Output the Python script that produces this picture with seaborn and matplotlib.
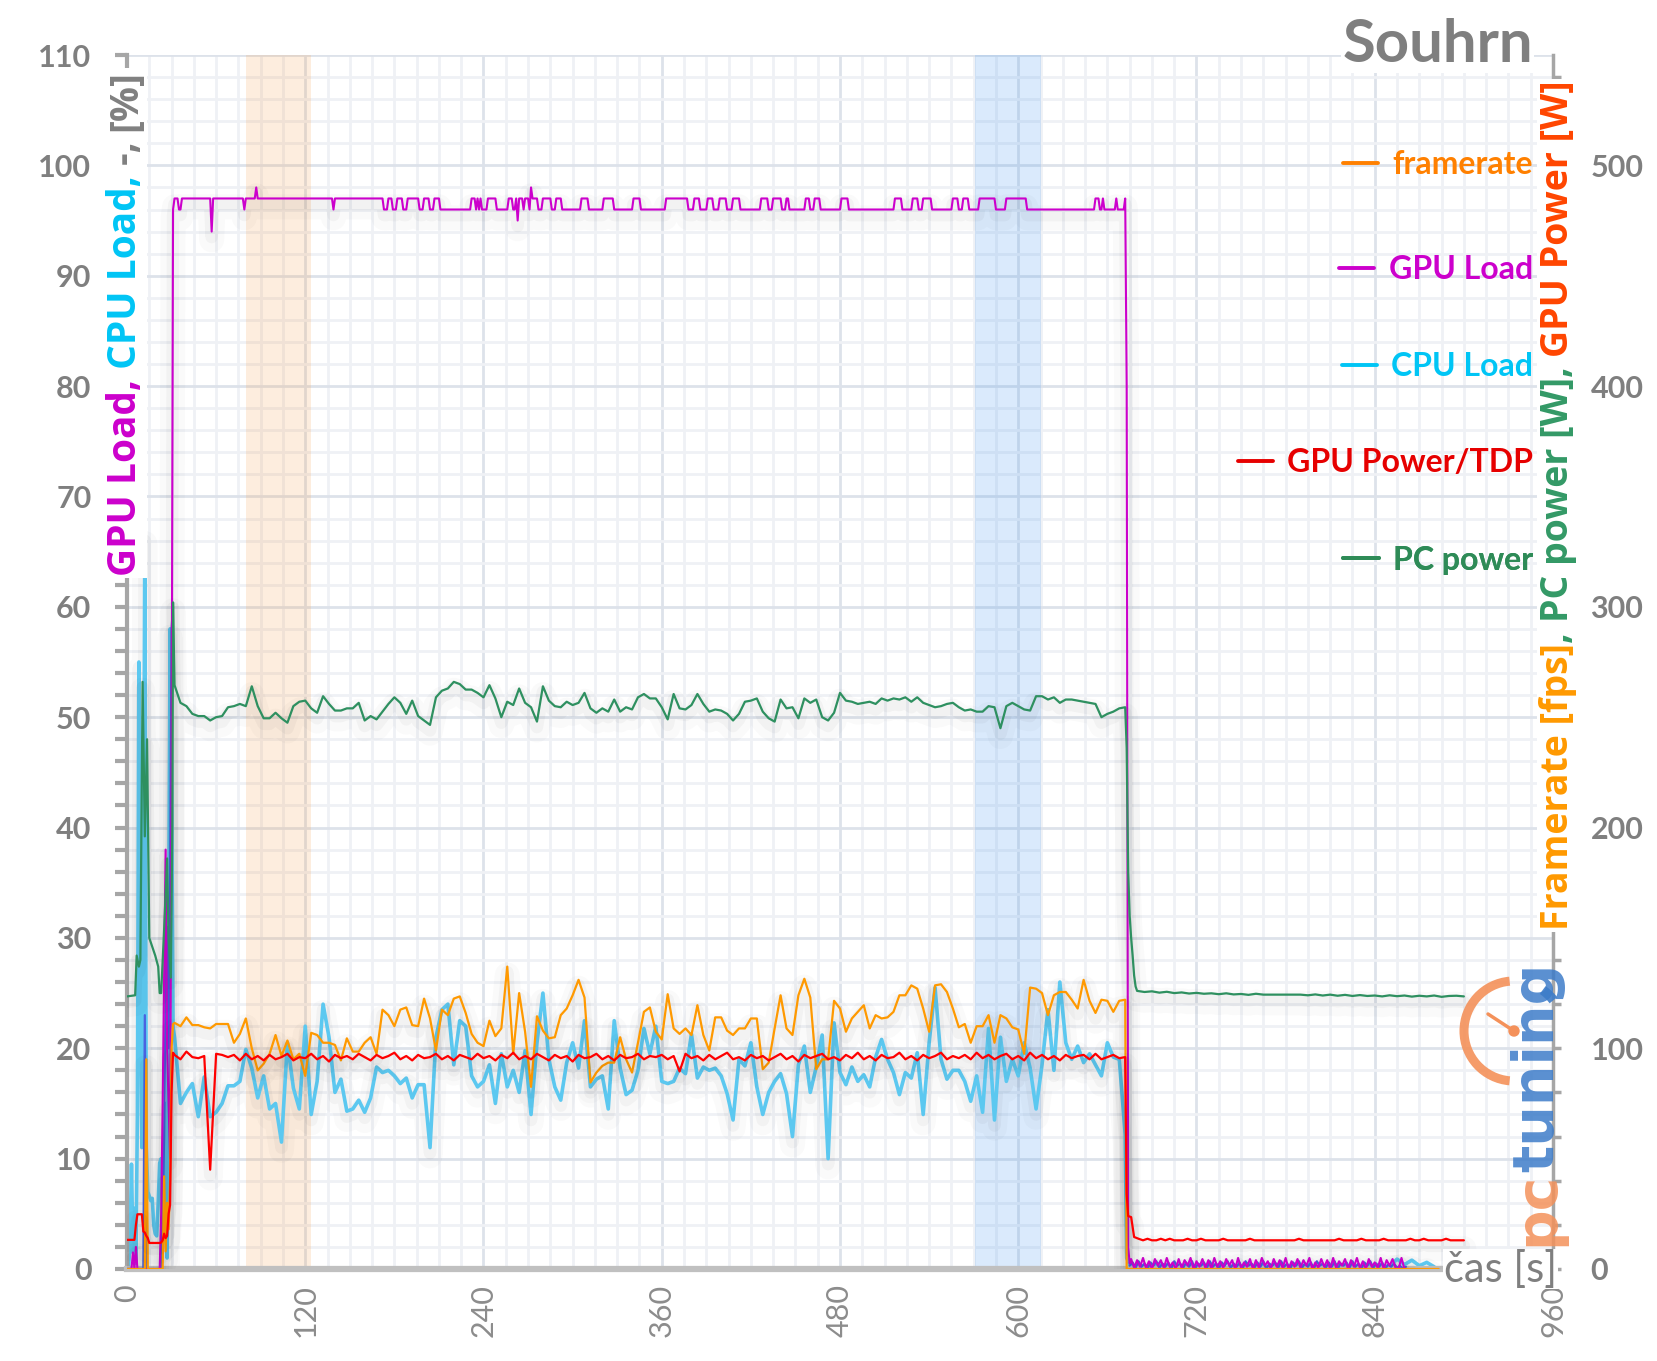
import numpy as np
import pandas as pd
import matplotlib
matplotlib.use("Agg")
import matplotlib.pyplot as plt
import seaborn as sns
from matplotlib.ticker import MultipleLocator
from matplotlib.lines import Line2D
from matplotlib.patches import Arc, Circle
from matplotlib.transforms import IdentityTransform
import matplotlib.patheffects as pe

# ------------------------------------------------------------------ data
# sampling clock of the loaded phase (s)
t_active = np.arange(32, 672, 4)

# CPU Load [%]
cpu_start_t = [0, 1, 2, 3, 4, 5, 6, 7, 8, 9, 10, 11, 12, 13, 14, 15, 16, 17, 18, 19,
               20, 21, 22, 23, 24, 25, 26, 27, 28, 29, 30, 31]
cpu_start_v = [0.6, 0.2, 2.0, 9.5, 1.5, 5.5, 0.5, 14.0, 55.0, 25.0, 11.0, 30.0, 66.5, 11.0,
               7.0, 6.6, 6.2, 6.4, 4.0, 3.2, 3.0, 6.0, 9.6, 10.0, 5.0, 3.0, 15.0, 1.0, 30.0,
               58.0, 45.0, 22.0]
cpu_active = [
    21.0, 15.0, 16.0, 16.8, 13.8, 17.4, 13.8, 14.2, 15.0, 16.6,
    16.6, 17.0, 19.9, 18.2, 15.5, 17.5, 14.5, 15.0, 11.5, 20.5,
    16.4, 14.5, 22.0, 14.0, 17.0, 24.0, 21.0, 16.0, 17.2, 14.3,
    14.5, 15.3, 14.2, 15.5, 18.3, 17.8, 18.0, 17.5, 16.8, 17.3,
    15.5, 16.7, 16.7, 11.0, 21.0, 23.5, 24.0, 18.5, 22.5, 22.0,
    17.5, 16.5, 17.0, 18.5, 15.0, 19.5, 16.5, 18.0, 16.0, 19.8,
    14.0, 20.5, 25.0, 19.0, 16.5,
    15.3, 18.7, 20.5, 18.2, 22.5, 16.5, 17.2, 17.5, 14.5, 22.5,
    18.2, 15.8, 16.2, 18.0, 21.8, 19.5, 22.0, 17.0, 16.8, 17.0,
    18.2, 17.7, 21.3, 17.3, 18.3, 18.0, 18.2, 17.5, 15.9, 13.5,
    19.0, 18.4, 20.5, 16.5, 14.0, 16.0, 17.0, 17.7, 15.9, 12.0,
    18.5, 20.2, 16.0, 18.3, 21.2, 10.0, 22.3, 17.8, 16.7, 18.3,
    17.0, 17.6, 16.5, 19.2, 20.8, 19.0, 17.8, 15.8, 17.8, 17.3,
    19.6, 14.0, 20.5, 25.5, 19.0, 17.2, 18.0, 18.0, 17.0,
    15.2, 17.5, 14.2, 21.8, 13.5, 21.0, 17.0, 19.0, 17.5, 20.5,
    18.2, 14.5, 18.5, 23.5, 18.0, 26.0, 20.5, 19.0, 20.2, 18.7,
    19.5, 18.5, 17.5, 20.5, 19.2, 19.0]
cpu_drop_t = [672, 673]
cpu_drop_v = [12.2, 1.0]
cpu_idle_t0 = 675
cpu_idle_v = [0.4, 0.2, 0.3, 0.2, 0.5, 0.2, 0.3, 0.1, 0.4, 0.2, 0.3, 0.2, 0.4, 0.1,
              0.3, 0.2, 0.5, 0.2, 0.3, 0.1, 0.4, 0.2, 0.3, 0.2, 0.4, 0.1, 0.3, 0.2,
              0.4, 0.2, 0.3, 0.1, 0.4, 0.2, 0.3, 0.2, 0.9, 0.4, 0.8, 0.3, 0.6, 0.2]

# GPU Load [%]
gpu_load_t = [0, 3, 4, 5, 6, 7, 8, 22, 23, 24, 26, 27, 28, 29, 30, 31,
              32, 34, 35, 36, 37, 56, 57, 58, 78, 79, 80, 86, 87, 88, 138, 139, 140,
              172, 173, 175, 176, 178, 179, 181, 182, 185, 186, 188, 189, 196, 197, 199, 200,
              203, 204, 206, 207, 210, 211,
              231, 232, 234, 235, 236, 237, 238, 239, 242, 243, 248, 249, 256, 257, 259, 260,
              261, 262, 263, 264, 266, 267, 268, 270, 271, 272, 273, 276, 277, 279, 280, 285,
              286, 288, 289, 292, 293,
              305, 306, 310, 311, 320, 321, 327, 328, 340, 341, 345, 346, 362, 363, 377, 378,
              381, 382, 385, 386, 390, 391, 394, 395, 398, 399, 403, 404, 407, 408, 412, 413,
              426, 427, 431, 432, 434, 435, 440, 441, 443, 444, 445, 446, 456, 457, 459, 460,
              462, 463, 466, 467, 480, 481, 485, 486,
              516, 517, 521, 522, 528, 529, 532, 533, 535, 536, 541, 542, 555, 556, 559, 560,
              562, 563, 566, 567, 573, 574, 584, 585, 591, 592, 605, 606,
              651, 652, 654, 655, 656, 657, 658, 665, 666, 667, 671, 672, 673, 674, 675]
gpu_load_v = [0, 0, 1.5, 0, 2, 0, 0, 0, 5, 15, 38, 20, 15, 10, 45, 96,
              97, 97, 96, 96, 97, 97, 94, 97, 97, 96, 97, 97, 98, 97, 97, 96, 97,
              97, 96, 96, 97, 97, 96, 96, 97, 97, 96, 96, 97, 97, 96, 96, 97,
              97, 96, 96, 97, 97, 96,
              96, 97, 97, 96, 97, 96, 97, 96, 96, 97, 97, 96, 96, 97, 97, 96,
              96, 97, 95, 97, 97, 96, 97, 97, 96, 98, 97, 97, 96, 96, 97, 97,
              96, 96, 97, 97, 96,
              96, 97, 97, 96, 96, 97, 97, 96, 96, 97, 97, 96, 96, 97, 97, 96,
              96, 97, 97, 96, 96, 97, 97, 96, 96, 97, 97, 96, 96, 97, 97, 96,
              96, 97, 97, 96, 96, 97, 97, 96, 96, 97, 97, 96, 96, 97, 97, 96,
              96, 97, 97, 96, 96, 97, 97, 96,
              96, 97, 97, 96, 96, 97, 97, 96, 96, 97, 97, 96, 96, 97, 97, 96,
              96, 97, 97, 96, 96, 97, 97, 96, 96, 97, 97, 96,
              96, 97, 97, 96, 96, 97, 96, 96, 97, 96, 96, 97, 80, 2, 0.5]
gpu_load_idle_t0 = 676
gpu_load_idle_v = [0.9, 0.1, 0.8, 0.2, 1.0, 0.1, 0.7, 0.0, 0.9, 0.3,
                   0.8, 0.1, 1.0, 0.2, 0.6, 0.0, 0.9, 0.1, 0.8, 0.3,
                   1.0, 0.0, 0.7, 0.2, 0.9, 0.1, 0.8, 0.0, 1.0, 0.2,
                   0.7, 0.1, 0.9, 0.3, 0.8, 0.0, 1.0, 0.1, 0.6, 0.2,
                   0.9, 0.0, 0.8, 0.1, 1.0, 0.3, 0.7, 0.0, 0.9, 0.2,
                   0.8, 0.1, 1.0, 0.0, 0.7, 0.2, 0.9, 0.1, 0.8, 0.3,
                   1.0, 0.0, 0.6, 0.1, 0.9, 0.2, 0.8, 0.0, 1.0, 0.1,
                   0.7, 0.3, 0.9, 0.0, 0.8, 0.2, 1.0, 0.1, 0.7, 0.0,
                   0.9, 0.2, 0.6, 0.1, 1.0, 0.0, 0.8, 0.3, 0.9, 0.1,
                   0.0, 1.0, 0.0, 0.0]

# unlabeled blue trace [%]
aux_start_t = [0, 11, 12, 13, 23, 24, 25, 26, 27, 28, 29, 30, 31]
aux_start_v = [0, 0, 23, 0, 0, 5, 12, 25, 31, 20, 35, 58, 60]
aux_idle_t0 = 675
aux_idle_v = [0.3, 0.6, 0.1, 0.7, 0.2, 0.5, 0.0, 0.6, 0.3, 0.7,
              0.1, 0.5, 0.2, 0.6, 0.0, 0.7, 0.3, 0.5, 0.1, 0.6,
              0.2, 0.7, 0.0, 0.5, 0.3, 0.6, 0.1, 0.7, 0.2, 0.5,
              0.0, 0.6, 0.3, 0.7, 0.1, 0.5, 0.2, 0.6, 0.0, 0.7,
              0.3, 0.5, 0.1, 0.6, 0.2, 0.7, 0.0, 0.5, 0.3, 0.6,
              0.1, 0.7, 0.2, 0.5, 0.0, 0.6, 0.3, 0.7, 0.1, 0.5,
              0.2, 0.6, 0.0, 0.7, 0.3, 0.5, 0.1, 0.6, 0.2, 0.7,
              0.0, 0.5, 0.3, 0.6, 0.1, 0.7, 0.2, 0.5, 0.0, 0.6,
              0.3, 0.7, 0.1, 0.5, 0.2, 0.6, 0.0, 0.4, 0.2, 0.5,
              0.1, 0.3, 0.0, 0.2]

# framerate [fps]
fps_start_t = [0, 12, 13, 14, 24, 25, 26, 27, 28, 29, 30, 31]
fps_start_v = [0, 0, 95, 0, 0, 42, 8, 30, 18, 40, 100, 111]
fps_active = [
    111.5, 110, 114, 110.5, 110.5, 109.5, 109, 111, 111, 111,
    102.5, 106.5, 113.5, 100, 90, 93, 97.5, 106, 96.5, 103.5,
    95, 97.5, 87.5, 107, 106, 102.5, 102.5, 101.5, 94.5, 104.5,
    98.5, 98.5, 102.5, 105, 97.5, 117.5, 115, 110, 117.5, 118.5,
    110.5, 110, 122.5, 113.5, 99, 117.5, 115, 122.5, 123.5, 116,
    106.5, 102.5, 101, 112.5, 105.5, 109, 137, 97.5, 125, 107.5,
    82.5, 114.5, 108, 104.5, 105,
    115, 118, 124, 131, 123, 84.5, 89, 92, 93.5, 93.5,
    105, 95, 89, 102.5, 116.5, 118.5, 107.5, 104, 124.5, 109,
    106.5, 109, 106, 119.5, 106, 99, 114, 114, 108, 106,
    109, 109, 113.5, 113.5, 90.5, 93.5, 109, 124, 109, 106,
    124, 131.5, 123, 90.5, 95, 95, 121.5, 118, 107.5, 113.5,
    116.5, 119.5, 109, 115, 113.5, 114, 116.5, 124, 124, 128.5,
    127, 118, 107.5, 128.5, 129, 125.5, 118, 109.5, 111,
    102.5, 110, 110, 115, 102.5, 115, 113.5, 109.5, 108.5, 97.5,
    127.5, 127, 125, 115, 124, 125.5, 125.5, 122, 118, 131,
    121.5, 116, 122, 121.5, 116.5, 121.5]
fps_end_t = [672, 673, 883]
fps_end_v = [122, 0, 0]

# GPU power [W]
gpw_start_t = [0, 5, 6, 7, 8, 10, 11, 12, 13, 14, 15, 22, 23, 24, 25, 26, 27, 28, 29, 30, 31]
gpw_start_v = [13.2, 13.2, 20, 24.8, 24.8, 24.8, 17, 16.5, 15, 14, 11.8, 11.8, 12, 13, 16,
               14, 15, 25, 29, 80, 98]
gpw_active = [
    97, 95, 98.5, 96, 95.5, 96.5, 45, 97.5, 97, 96,
    97, 94.5, 97.5, 95, 96.5, 94.5, 97, 95, 96, 97.5,
    94.5, 96, 95.5, 97.5, 95, 96.5, 94, 97, 95.5, 96.5,
    95, 97.5, 96, 94.5, 97, 95.5, 96.5, 98, 95, 96.5,
    94.5, 97, 95.5, 96, 97.5, 95, 96.5, 94.5, 97, 96,
    95, 97.5, 95.5, 96.5, 94.5, 97, 95.5, 98, 95, 96.5,
    95, 97.5, 96, 94.5, 97,
    95.5, 96.5, 94, 97, 95.5, 96, 97.5, 95, 96.5, 94.5,
    97, 95.5, 96, 97.5, 95, 96.5, 96, 97, 95, 96.5,
    89.5, 97.5, 95.5, 96.5, 94.5, 97, 95, 96.5, 98, 95,
    96, 94.5, 97, 95.5, 96.5, 94.5, 96, 97.5, 95, 96.5,
    94, 97, 95.5, 96.5, 97.5, 95, 96, 94.5, 97, 95.5,
    98, 95, 96.5, 94.5, 97, 95.5, 96, 98, 95, 96.5,
    94.5, 97, 95.5, 96.5, 98, 95, 96.5, 95.5, 97,
    95, 98, 95.5, 97, 95, 96.5, 97.5, 95, 96.5, 94.5,
    98, 95.5, 97, 95, 96.5, 94.5, 97, 95.5, 96.5, 97,
    95, 97.5, 95, 96, 97, 95.5]
gpw_drop_t = [672, 673, 674, 676, 678]
gpw_drop_v = [96, 34, 24, 23.5, 14.5]
gpw_idle_t0 = 681
gpw_idle_v = [13.7, 13.0, 13.7, 13.0, 13.0, 13.7, 13.0, 13.7, 13.0, 13.0,
              13.0, 13.7, 13.0, 13.0, 13.7, 13.0, 13.0, 13.0, 13.0, 13.7,
              13.0, 13.0, 13.0, 13.0, 13.0, 13.7, 13.0, 13.0, 13.0, 13.0,
              13.0, 13.0, 13.0, 13.0, 13.0, 13.0, 13.7, 13.0, 13.0, 13.0,
              13.0, 13.0, 13.0, 13.0, 13.0, 13.7, 13.0, 13.0, 13.0, 13.0,
              13.7, 13.0, 13.0, 13.0, 13.0, 13.7, 13.0, 13.0, 13.0, 13.0,
              13.0, 13.7, 13.0, 13.0, 13.7, 13.0, 13.0, 13.0, 13.0, 13.7,
              13.0, 13.0, 13.0, 13.0]

# PC power [W]
pc_start_t = [0, 5.5, 6.5, 8, 9, 10.5, 12, 13.5, 15, 17, 19, 21, 22, 23, 24, 25, 26, 27,
              28, 29.5, 30.5, 31]
pc_start_v = [123.5, 124, 142, 137, 140, 266, 196, 240, 150, 146, 142, 137, 125, 125, 139,
              154, 170, 186, 150, 132, 200, 302]
pc_active = [
    264.5, 256.5, 255, 251.5, 250.5, 250.5, 248.5, 250, 250.5, 254.5,
    255, 256, 255, 264, 255, 249.5, 249.5, 252, 249.5, 247.5,
    255, 257, 257.5, 254, 252, 259.5, 256, 253, 253, 254,
    254, 256.5, 248.5, 250.5, 249, 252.5, 256, 259, 256.5, 251.5,
    257.5, 250.5, 248.5, 246.5, 259, 262, 263, 266, 265, 262.5,
    262.5, 261, 259, 264.5, 258.5, 250, 257, 255.5, 263, 256.5,
    254.5, 248, 264, 257.5, 255,
    254.5, 257, 255.5, 256.5, 261, 254, 252, 254, 252.5, 258,
    252.5, 254.5, 253.5, 259, 260.5, 258.5, 258.5, 254.5, 249, 260.5,
    254, 253.5, 255.5, 260.5, 256, 252.5, 253.5, 253, 251.5, 248.5,
    251.5, 257, 257.5, 258.5, 252.5, 249.5, 248, 258, 254, 254.5,
    249.5, 258.5, 256.5, 258, 250, 248.5, 252, 261, 257.5, 257,
    256, 256.5, 257, 256, 258.5, 257.5, 258.5, 258, 259, 257,
    259, 256.5, 255.5, 254.5, 255, 256, 256.5, 254.5, 253,
    253.5, 252.5, 252.5, 255, 254.5, 245, 255, 256.5, 255, 253.5,
    253, 259.5, 259.5, 258, 259, 256.5, 258, 258, 257.5, 257,
    256.5, 256, 250, 251.5, 252.5, 254]
pc_drop_t = [672, 673, 674, 675, 676, 677, 678, 679]
pc_drop_v = [254.5, 236, 180, 160, 150, 142, 133, 128]
pc_idle_t0 = 680
pc_idle_v = [126, 125.5, 125.8, 125.2, 125.6, 125, 125.3, 124.8, 125.1, 124.7,
             124.9, 124.5, 124.9, 124.4, 124.6, 124.2, 124.7, 124.3, 124.3, 124.3,
             124.3, 124.3, 124.3, 124.0, 124.4, 123.9, 124.3, 123.8, 124.2, 123.7,
             124.1, 123.7, 123.9, 123.5, 124.0, 123.6, 123.9, 123.4, 123.8, 123.5,
             123.9, 123.3, 123.7, 123.8, 123.5]

# highlighted intervals (s)
band_orange = (80, 124)
band_blue = (571, 615)

x_ticks_step = 120
legend_names = ["framerate", "GPU Load", "CPU Load", "GPU Power/TDP", "PC power"]

# ------------------------------------------------------------------ frames
def frame(parts):
    rows = []
    for seg, t, v in parts:
        rows.append(pd.DataFrame({"t": np.asarray(t, float), "v": np.asarray(v, float), "seg": seg}))
    return pd.concat(rows, ignore_index=True)

def idle_t(t0, vals, step):
    return t0 + step * np.arange(len(vals))

cpu_df = frame([(0, cpu_start_t, cpu_start_v), (0, t_active, cpu_active),
                (0, cpu_drop_t, cpu_drop_v), (0, idle_t(cpu_idle_t0, cpu_idle_v, 5), cpu_idle_v)])
gload_df = frame([(0, gpu_load_t, gpu_load_v),
                  (0, idle_t(gpu_load_idle_t0, gpu_load_idle_v, 2), gpu_load_idle_v)])
aux_df = frame([(0, aux_start_t, aux_start_v),
                (1, idle_t(aux_idle_t0, aux_idle_v, 2), aux_idle_v)])
fps_df = frame([(0, fps_start_t, fps_start_v), (0, t_active, fps_active), (0, fps_end_t, fps_end_v)])
gpw_df = frame([(0, gpw_start_t, gpw_start_v), (0, t_active, gpw_active),
                (0, gpw_drop_t, gpw_drop_v), (0, idle_t(gpw_idle_t0, gpw_idle_v, 3), gpw_idle_v)])
pc_df = frame([(0, pc_start_t, pc_start_v), (0, t_active, pc_active),
               (0, pc_drop_t, pc_drop_v), (0, idle_t(pc_idle_t0, pc_idle_v, 5), pc_idle_v)])

# ------------------------------------------------------------------ style
sns.set_style("white")
plt.rcParams["font.family"] = ["Lato", "DejaVu Sans"]

FW, FH = 1658, 1361
fig = plt.figure(figsize=(FW / 100, FH / 100), dpi=100)
ax = fig.add_axes([127 / FW, 1 - 1269 / FH, 1426 / FW, 1214 / FH])
ax2 = ax.twinx()

C_CPU, C_GLOAD, C_AUX = "#5cc8f0", "#cc00cc", "#4a62e0"
C_FPS, C_GPW, C_PC = "#ff9900", "#ff0000", "#2e9060"
GRAY = "#7f7f7f"

shadow = [pe.SimpleLineShadow(offset=(0, -6), shadow_color="black", alpha=0.02, linewidth=18),
          pe.SimpleLineShadow(offset=(0, -4), shadow_color="black", alpha=0.03, linewidth=9),
          pe.Normal()]

common = dict(x="t", y="v", units="seg", estimator=None, sort=False, legend=False)
sns.lineplot(data=cpu_df, ax=ax, color=C_CPU, lw=2.6, path_effects=shadow, zorder=2, **common)
sns.lineplot(data=aux_df, ax=ax, color=C_AUX, lw=1.6, zorder=3, **common)
sns.lineplot(data=gload_df, ax=ax, color=C_GLOAD, lw=1.5, path_effects=shadow, zorder=4, **common)
sns.lineplot(data=pc_df, ax=ax2, color=C_PC, lw=1.6, path_effects=shadow, zorder=2, **common)
sns.lineplot(data=fps_df, ax=ax2, color=C_FPS, lw=1.6, path_effects=shadow, zorder=3, **common)
sns.lineplot(data=gpw_df, ax=ax2, color=C_GPW, lw=1.6, path_effects=shadow, zorder=4, **common)

ax.axvspan(*band_orange, color="#f5a55a", alpha=0.2, lw=0, zorder=0.6)
ax.axvspan(*band_blue, color="#4a9af0", alpha=0.2, lw=0, zorder=0.6)

ax.set_xlim(0, 960)
ax.set_ylim(0, 110)
ax2.set_ylim(0, 550)
ax.set_xlabel("")
ax.set_ylabel("")
ax2.set_ylabel("")
ax.xaxis.set_major_locator(MultipleLocator(x_ticks_step))
ax.xaxis.set_minor_locator(MultipleLocator(15))
ax.yaxis.set_major_locator(MultipleLocator(10))
ax.yaxis.set_minor_locator(MultipleLocator(2))
ax2.yaxis.set_major_locator(MultipleLocator(100))
ax2.yaxis.set_minor_locator(MultipleLocator(20))

ax.set_axisbelow(True)
ax.grid(which="major", color="#dde2ea", lw=2)
ax.grid(which="minor", color="#eff1f5", lw=2)

for s in ["top", "right"]:
    ax.spines[s].set_visible(False)
for s in ["top", "left", "bottom"]:
    ax2.spines[s].set_visible(False)
ax.spines["left"].set_color("#a6a6a6")
ax.spines["left"].set_linewidth(3)
ax.spines["bottom"].set_color("#c0c0c0")
ax.spines["bottom"].set_linewidth(4.5)
ax2.spines["right"].set_color("#a6a6a6")
ax2.spines["right"].set_linewidth(2.5)

ax.tick_params(axis="y", which="both", direction="out", length=8.6, width=3, color="#a6a6a6")
ax.tick_params(axis="y", which="major", pad=17, labelsize=22, labelcolor=GRAY)
ax.tick_params(axis="x", which="major", direction="out", length=6, width=4, color="#c0c0c0",
               pad=5, labelsize=22, labelcolor="#8c8c8c", labelrotation=90)
ax.tick_params(axis="x", which="minor", length=0)
ax2.tick_params(axis="y", which="both", direction="out", length=6, width=2.5, color="#a6a6a6")
ax2.tick_params(axis="y", which="major", pad=21, labelsize=22, labelcolor=GRAY)
for lbl in ax.get_yticklabels() + ax2.get_yticklabels():
    lbl.set_fontweight("bold")

# legend: one right-aligned entry per series
leg_y = [0.910, 0.823, 0.743, 0.664, 0.584]
leg_c = ["#ff8000", "#cc00cc", "#00c5f5", "#e60000", "#2e8b57"]
for name, y, c in zip(legend_names, leg_y, leg_c):
    lg = ax2.legend(handles=[Line2D([], [], color=c, lw=2.8)], labels=[name],
                    loc="center right", bbox_to_anchor=(0.986, y), frameon=False,
                    handlelength=1.1, handletextpad=0.45, borderpad=0, borderaxespad=0,
                    prop={"family": "Lato", "weight": "bold", "size": 23}, labelcolor=c)
    ax2.add_artist(lg)

ax2.text(0.986, (1269 - 45) / 1214, "Souhrn", transform=ax2.transAxes, ha="right", va="center",
         fontsize=43, fontweight="bold", color=GRAY,
         bbox=dict(facecolor="white", edgecolor="none", pad=1), zorder=10)
ax2.text(1.003, 0.0, "čas [s]", transform=ax2.transAxes, ha="right", va="center",
         fontsize=30, color=GRAY, bbox=dict(facecolor="white", edgecolor="none", pad=0.5), zorder=10)

# ------------------------------------------------------------------ multi-coloured axis titles
renderer = fig.canvas.get_renderer()

def stacked_vertical(x_px, y0_px, pieces, size, family="Open Sans", weight="bold", bbox=True, alpha=1.0):
    y = y0_px
    for txt, col in pieces:
        kw = dict(rotation=90, rotation_mode="anchor", ha="left", va="baseline", color=col,
                  fontsize=size, fontweight=weight, family=[family, "DejaVu Sans"], zorder=6, alpha=alpha)
        if bbox:
            kw["bbox"] = dict(facecolor="white", edgecolor="none", pad=1)
        t = fig.text(x_px / FW, y / FH, txt, **kw)
        bb = t.get_window_extent(renderer)
        y = bb.y1

stacked_vertical(136, FH - 576, [("GPU Load,", "#cc00cc"), (" CPU Load,", "#00c5f5"),
                                 (" -, ", "#808080"), ("[%]", "#808080")], 28)
stacked_vertical(1568, FH - 930, [("Framerate [fps]", "#ff9900"), (", ", "#339966"),
                                  ("PC power [W]", "#339966"), (", ", "#339966"),
                                  ("GPU Power [W]", "#ff4500")], 27)

# pctuning watermark
stacked_vertical(1553, FH - 1246, [("pc", "#f4915a"), ("tuning", "#3d7cc9")], 41,
                 family="DejaVu Sans", weight="bold", bbox=False, alpha=0.85)
cx, cy, r = 1514, FH - 1031, 50
fig.add_artist(Arc((cx, cy), 2 * r, 2 * r, theta1=95, theta2=265, color="#f4915a", lw=6.5,
                   transform=IdentityTransform(), alpha=0.9))
fig.add_artist(Arc((cx, cy), 2 * r, 2 * r, theta1=38, theta2=55, color="#3d7cc9", lw=7,
                   transform=IdentityTransform(), alpha=0.9))
fig.add_artist(Line2D([cx, cx - 26], [cy, cy + 17], color="#f4915a", lw=2.5,
                      transform=IdentityTransform()))
fig.add_artist(Circle((cx, cy), 5, color="#f4915a", transform=IdentityTransform()))

fig.savefig("out.png", dpi=100)
